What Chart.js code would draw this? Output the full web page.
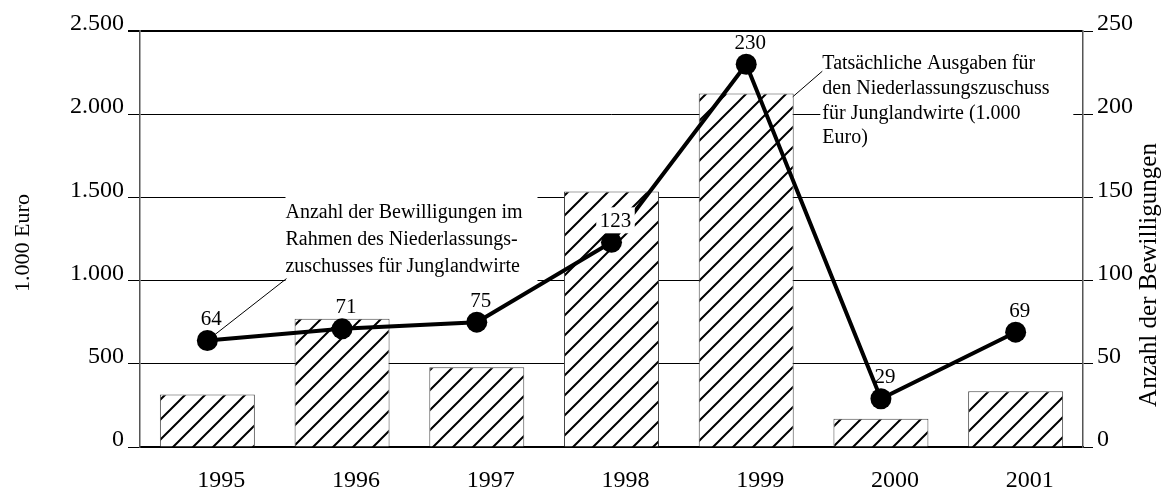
<!DOCTYPE html>
<html>
<head>
<meta charset="utf-8">
<script src="https://cdn.jsdelivr.net/npm/chart.js@4.4.1/dist/chart.umd.min.js"></script>
<style>
html, body { margin: 0; padding: 0; background: #fff; }
#wrap { width: 1165px; height: 490px; position: relative; }
</style>
</head>
<body>
<div id="wrap"><canvas id="chart"></canvas></div>
<script>
// values
const years = ['1995', '1996', '1997', '1998', '1999', '2000', '2001'];
const spending = [315, 770, 480, 1535, 2125, 170, 335];   // 1.000 Euro, left axis
const approvals = [64, 71, 75, 123, 230, 29, 69];         // count, right axis
const leftTicks = ['0', '500', '1.000', '1.500', '2.000', '2.500'];
const rightTicks = ['0', '50', '100', '150', '200', '250'];
const leftTitle = '1.000 Euro';
const rightTitle = 'Anzahl der Bewilligungen';
const noteApprovals = ['Anzahl der Bewilligungen im', 'Rahmen des Niederlassungs-', 'zuschusses für Junglandwirte'];
const noteSpending = ['Tatsächliche Ausgaben für', 'den Niederlassungszuschuss', 'für Junglandwirte (1.000', 'Euro)'];

const SERIF = '"Liberation Serif", "Times New Roman", serif';
const canvas = document.getElementById('chart');

function makeHatch() {
    const s = 20;
    const c = document.createElement('canvas');
    c.width = s;
    c.height = s;
    const g = c.getContext('2d');
    g.fillStyle = '#fff';
    g.fillRect(0, 0, s, s);
    g.strokeStyle = '#000';
    g.lineWidth = 2;
    g.beginPath();
    g.moveTo(-2, s + 2); g.lineTo(s + 2, -2);
    g.moveTo(-2, 2); g.lineTo(2, -2);
    g.moveTo(s - 2, s + 2); g.lineTo(s + 2, s - 2);
    g.stroke();
    return canvas.getContext('2d').createPattern(c, 'repeat');
}

function drawNote(ctx, lines, textX, firstBaseline, lineGap, box) {
    ctx.fillStyle = '#fff';
    ctx.fillRect(box.left, box.top, box.right - box.left, box.bottom - box.top);
    ctx.fillStyle = '#000';
    lines.forEach((t, i) => ctx.fillText(t, textX, firstBaseline + i * lineGap));
}

// annotation boxes + leader lines, under the bars
const notesPlugin = {
    id: 'notes',
    beforeDatasetsDraw(chart) {
        const { ctx, scales: { x, y } } = chart;
        const line = chart.getDatasetMeta(1).data;
        ctx.save();
        ctx.font = '20px ' + SERIF;
        ctx.textAlign = 'left';
        ctx.textBaseline = 'alphabetic';

        // left note, between the 1.500 and 1.000 grid lines
        const l1 = x.getPixelForValue(0.58);
        const t1 = y.getPixelForValue(1500) - 1;
        const b1 = y.getPixelForValue(1000) + 2;
        drawNote(ctx, noteApprovals, l1, t1 + 22, 27, { left: l1, top: t1, right: l1 + 252, bottom: b1 });
        ctx.strokeStyle = '#000';
        ctx.lineWidth = 1;
        ctx.beginPath();
        ctx.moveTo(line[0].x, line[0].y);
        ctx.lineTo(l1 + 1, b1 - 4);
        ctx.stroke();

        // right note, over the 2.000 grid line
        const l2 = x.getPixelForValue(4.55);
        const base2 = y.getPixelForValue(2000) - 45;
        drawNote(ctx, noteSpending, l2 + 2, base2, 24.7, { left: l2, top: base2 - 20, right: l2 + 253, bottom: base2 + 82 });
        ctx.beginPath();
        ctx.moveTo(l2 + 2, base2 + 2);
        ctx.lineTo(l2 - 58, base2 + 54);
        ctx.stroke();
        ctx.restore();
    },
    afterDatasetsDraw(chart) {
        const { ctx } = chart;
        const bars = chart.getDatasetMeta(0).data;
        const pts = chart.getDatasetMeta(1).data;
        ctx.save();
        ctx.font = '21px ' + SERIF;
        ctx.textAlign = 'center';
        ctx.textBaseline = 'middle';
        pts.forEach((p, i) => {
            const tx = p.x + 4;
            const ty = p.y - 21;
            const text = String(approvals[i]);
            const bar = bars[i];
            if (ty > bar.y && Math.abs(tx - bar.x) < bar.width / 2) {
                const w = ctx.measureText(text).width + 7;
                ctx.fillStyle = '#fff';
                ctx.fillRect(tx - w / 2, ty - 14, w, 26);
            }
            ctx.fillStyle = '#000';
            ctx.fillText(text, tx, ty);
        });
        ctx.restore();
    },
    afterDraw(chart) {
        const { ctx, chartArea } = chart;
        ctx.save();
        ctx.fillStyle = '#000';
        ctx.textAlign = 'center';
        ctx.textBaseline = 'middle';
        ctx.font = '22px ' + SERIF;
        ctx.translate(chartArea.left - 117, chartArea.top + 212);
        ctx.rotate(-Math.PI / 2);
        ctx.fillText(leftTitle, 0, 0);
        ctx.restore();

        ctx.save();
        ctx.fillStyle = '#000';
        ctx.textAlign = 'center';
        ctx.textBaseline = 'middle';
        ctx.font = '25px ' + SERIF;
        ctx.translate(chartArea.right + 66, chartArea.top + 244);
        ctx.rotate(-Math.PI / 2);
        ctx.fillText(rightTitle, 0, 0);
        ctx.restore();
    }
};

const tickFont = { family: SERIF, size: 24 };

new Chart(canvas, {
    data: {
        labels: years,
        datasets: [
            {
                type: 'bar',
                data: spending,
                yAxisID: 'y',
                backgroundColor: makeHatch(),
                borderColor: '#444',
                borderWidth: 1,
                barPercentage: 0.705,
                categoryPercentage: 1,
                order: 2
            },
            {
                type: 'line',
                data: approvals,
                yAxisID: 'y1',
                borderColor: '#000',
                borderWidth: 4,
                pointRadius: 10.5,
                pointBackgroundColor: '#000',
                pointBorderWidth: 0,
                tension: 0,
                order: 1
            }
        ]
    },
    options: {
        responsive: true,
        maintainAspectRatio: false,
        animation: false,
        layout: { padding: { top: 31, left: 0, right: 0, bottom: 0 } },
        plugins: {
            legend: { display: false },
            tooltip: { enabled: false }
        },
        scales: {
            x: {
                afterFit: s => { s.height = 43; },
                grid: { display: false },
                border: { display: true, color: '#000', width: 2 },
                ticks: { font: tickFont, color: '#000', padding: 11, labelOffset: 14 }
            },
            y: {
                position: 'left',
                min: 0,
                max: 2500,
                afterFit: s => { s.width = 140; },
                grid: {
                    color: '#000',
                    lineWidth: c => (c.tick && c.tick.value === 2500 ? 2 : 1),
                    tickLength: 12
                },
                border: { color: '#555', width: 1.5 },
                ticks: {
                    stepSize: 500,
                    font: tickFont,
                    color: '#000',
                    padding: 4,
                    labelOffset: -7,
                    callback: (v, i) => leftTicks[i]
                }
            },
            y1: {
                position: 'right',
                min: 0,
                max: 250,
                afterFit: s => { s.width = 82; },
                grid: { drawOnChartArea: false, color: '#000', tickLength: 10 },
                border: { color: '#555', width: 1.5 },
                ticks: {
                    stepSize: 50,
                    font: tickFont,
                    color: '#000',
                    padding: 4,
                    labelOffset: -7,
                    callback: (v, i) => rightTicks[i]
                }
            }
        }
    },
    plugins: [notesPlugin]
});
</script>
</body>
</html>
